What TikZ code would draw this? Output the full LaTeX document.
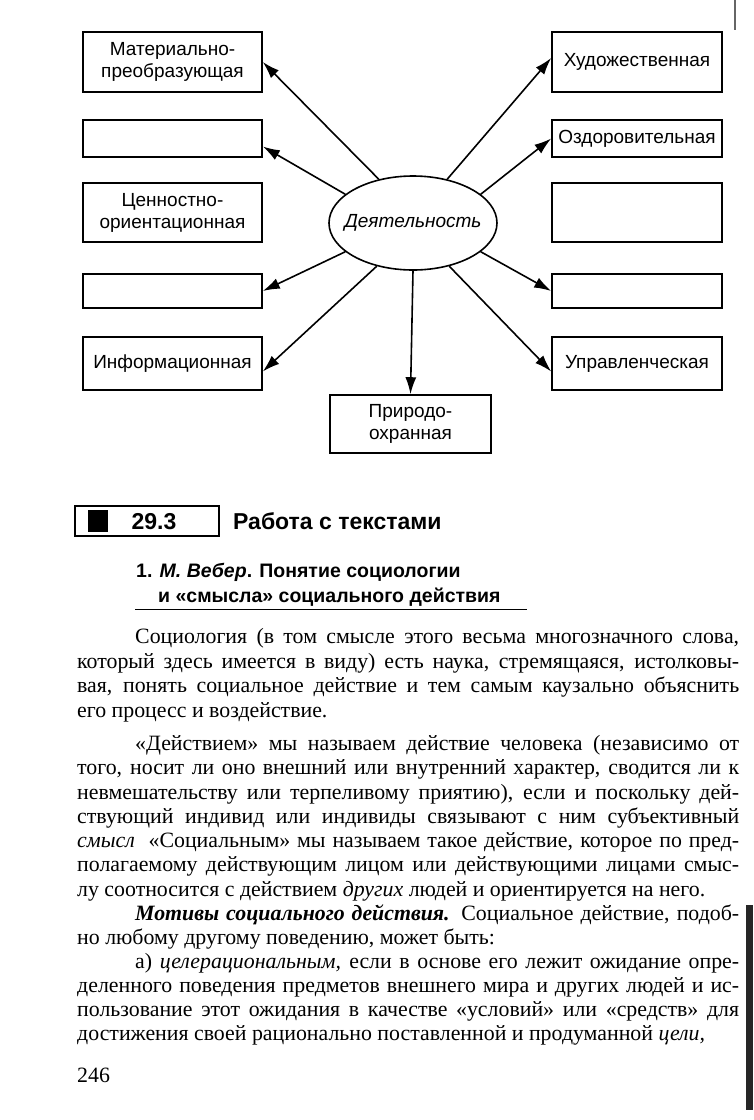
\documentclass[tikz,border=0pt]{standalone}
\usepackage{fontspec}
\setmainfont{Liberation Serif}
\setsansfont{Liberation Sans}
\usetikzlibrary{arrows.meta,shapes.geometric}
\newlength\reflen
\newcommand{\bodyfont}{\fontsize{\bodysize}{24}\selectfont}
\newcommand{\jl}[4]{\node[anchor=base west,inner sep=0] (#1) at (#2,#3) {\bodyfont\makebox[\dimexpr739pt-#2pt\relax][s]{#4}};}
\newcommand{\nl}[4]{\node[anchor=base west,inner sep=0] (#1) at (#2,#3) {\bodyfont #4};}
\tikzset{
  box/.style={draw, line width=1.6pt, inner sep=2pt, align=center, font=\sffamily\fontsize{19}{22}\selectfont},
  arr/.style={line width=1.6pt, -{Latex[length=17pt,width=11pt]}},
}
\begin{document}
\settowidth\reflen{\fontsize{20}{24}\selectfont лу соотносится с действием \textit{других} людей и ориентируется на него.}
\edef\bodysize{\the\dimexpr 20pt*\number\dimexpr628pt\relax/\number\reflen\relax}
\begin{tikzpicture}[x=1pt,y=-1pt]
\useasboundingbox (0,0) rectangle (753,1120);
% diagram
\node[draw, ellipse, line width=1.6pt, minimum width=168pt, minimum height=94pt, inner sep=0] (act) at (413,223) {};
\node[font=\sffamily\itshape\fontsize{19}{22}\selectfont, inner sep=0] (actt) at (act.center) {Деятельность};
\node[box, minimum width=179pt, minimum height=60pt] (L1) at (172.5,62) {Материально-\\преобразующая};
\node[box, minimum width=179pt, minimum height=37pt] (L2) at (172.5,138.5) {};
\node[box, minimum width=179pt, minimum height=59pt] (L3) at (172.5,212.5) {Ценностно-\\ориентационная};
\node[box, minimum width=179pt, minimum height=34pt] (L4) at (172.5,291) {};
\node[box, minimum width=179pt, minimum height=53pt] (L5) at (172.5,363.5) {Информационная};
\node[box, minimum width=170pt, minimum height=60pt] (R1) at (637,62) {Художественная};
\node[box, minimum width=170pt, minimum height=37pt] (R2) at (637,138.5) {Оздоровительная};
\node[box, minimum width=170pt, minimum height=59pt] (R3) at (637,212.5) {};
\node[box, minimum width=170pt, minimum height=34pt] (R4) at (637,291) {};
\node[box, minimum width=170pt, minimum height=53pt] (R5) at (637,363.5) {Управленческая};
\node[box, minimum width=161pt, minimum height=58pt] (B) at (410.5,424) {Природо-\\охранная};
\draw[arr] (act.128) -- (L1.east);
\draw[arr] (act.157) -- ([yshift=-8pt]L2.east);
\draw[arr] (act.203) -- (L4.east);
\draw[arr] (act.230) -- ([yshift=-8pt]L5.east);
\draw[arr] (act.270) -- (B.north);
\draw[arr] (act.310) -- ([yshift=-8pt]R5.west);
\draw[arr] (act.337) -- (R4.west);
\draw[arr] (act.23) -- (R2.west);
\draw[arr] (act.52) -- ([yshift=4pt]R1.west);
% section heading
\node[draw, line width=1.4pt, minimum width=144pt, minimum height=30pt, inner sep=0] (hb) at (147,521) {};
\node[fill=black, minimum width=20pt, minimum height=22pt, inner sep=0] (sq) at (98,521) {};
\node[font=\sffamily\bfseries\fontsize{23}{26}\selectfont, anchor=base, inner sep=0] (num) at (154,529) {29.3};
\node[font=\sffamily\bfseries\fontsize{23}{26}\selectfont, anchor=base west, inner sep=0] (ht) at (233,529) {Работа с текстами};
\node[font=\sffamily\bfseries\fontsize{19.5}{24}\selectfont, anchor=base west, inner sep=0] (s1) at (136,577) {1. \textit{М. Вебер}. Понятие социологии};
\node[font=\sffamily\bfseries\fontsize{19.5}{24}\selectfont, anchor=base west, inner sep=0] (s2) at (158,602) {и «смысла» социального действия};
\coordinate (u1) at (135,609);
\coordinate (u2) at (527,609);
\draw[line width=1pt] (u1) -- (u2);
% body text
\jl{t1}{135}{643}{Социология (в том смысле этого весьма многозначного слова,}
\jl{t2}{77}{668}{который здесь имеется в виду) есть наука, стремящаяся, истолковы-}
\jl{t3}{77}{692}{вая, понять социальное действие и тем самым каузально объяснить}
\nl{t4}{77}{717}{его процесс и воздействие.}
\jl{t5}{135}{750}{«Действием» мы называем действие человека (независимо от}
\jl{t6}{77}{774}{того, носит ли оно внешний или внутренний характер, сводится ли к}
\jl{t7}{77}{799}{невмешательству или терпеливому приятию), если и поскольку дей-}
\jl{t8}{77}{823}{ствующий индивид или индивиды связывают с ним субъективный}
\jl{t9}{77}{847}{\textit{смысл}\ \ «Социальным» мы называем такое действие, которое по пред-}
\jl{t10}{77}{871}{полагаемому действующим лицом или действующими лицами смыс-}
\nl{t11}{77}{896}{лу соотносится с действием \textit{других} людей и ориентируется на него.}
\jl{t12}{135}{920}{\textbf{\textit{Мотивы социального действия.}} Социальное действие, подоб-}
\nl{t13}{77}{944}{но любому другому поведению, может быть:}
\jl{t14}{135}{968}{а) \textit{целерациональным,} если в основе его лежит ожидание опре-}
\jl{t15}{77}{992}{деленного поведения предметов внешнего мира и других людей и ис-}
\jl{t16}{77}{1016}{пользование этот ожидания в качестве «условий» или «средств» для}
\nl{t17}{77}{1040}{достижения своей рационально поставленной и продуманной \textit{цели,}}
\node[anchor=base west, inner sep=0, font=\bodyfont] (pg) at (77,1082) {246};
% scan edge
\fill[black!85] (746,905) rectangle (753,1110);
\fill[black!60] (734,0) rectangle (736,30);
\end{tikzpicture}
\end{document}
